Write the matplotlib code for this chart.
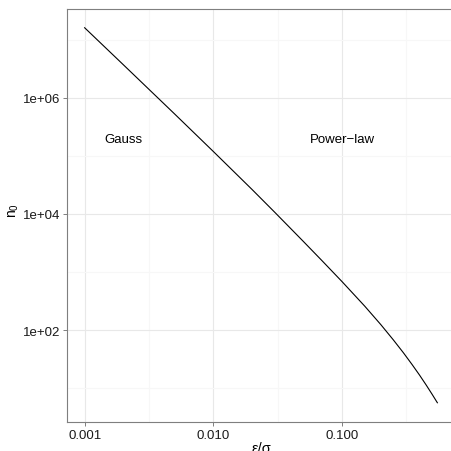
import matplotlib
matplotlib.use('Agg')
import matplotlib.pyplot as plt
import numpy as np
from matplotlib.ticker import FixedLocator, NullFormatter

# values (log-log curve)
eps_sigma = [0.001, 0.002, 0.005, 0.01, 0.02, 0.03, 0.05, 0.07, 0.1, 0.15,
             0.2, 0.25, 0.3, 0.35, 0.4, 0.45, 0.5, 0.55]
n0 = [1.622e7, 3.73e6, 5.30e5, 1.194e5, 2.64e4, 1.07e4, 3.37e3, 1.56e3, 682, 258,
      124, 67.8, 40.4, 25.4, 16.7, 11.3, 7.85, 5.58]

x_breaks = [0.001, 0.01, 0.1]
x_labels = ['0.001', '0.010', '0.100']
x_minor = [0.00316, 0.0316, 0.316]
y_breaks = [1e2, 1e4, 1e6]
y_labels = ['1e+02', '1e+04', '1e+06']
y_minor = [1e1, 1e3, 1e5, 1e7]

labels = ['Gauss', 'Power\u2212law']
label_x = [0.002, 0.1]
label_y = [2e5, 2e5]

plt.rcParams['font.family'] = ['Liberation Sans', 'DejaVu Sans']

fig = plt.figure(figsize=(4.51, 4.52), dpi=100)
# panel runs a little past the right edge, like the cropped original
ax = fig.add_axes([67 / 451, 1 - 422.5 / 452, 388 / 451, 412.5 / 452])
ax.set_xscale('log')
ax.set_yscale('log')

ax.plot(eps_sigma, n0, color='black', lw=0.8)

# ggplot style 5% expansion in log space
lx = np.log10(eps_sigma)
ly = np.log10(n0)
dx = (lx.max() - lx.min()) * 0.05
dy = (ly.max() - ly.min()) * 0.05
ax.set_xlim(10 ** (lx.min() - dx), 10 ** (lx.max() + dx))
ax.set_ylim(10 ** (ly.min() - dy), 10 ** (ly.max() + dy))

for t, x, y in zip(labels, label_x, label_y):
    ax.text(x, y, t, ha='center', va='center', fontsize=9.5, color='black')

ax.xaxis.set_major_locator(FixedLocator(x_breaks))
ax.xaxis.set_ticklabels(x_labels)
ax.xaxis.set_minor_locator(FixedLocator(x_minor))
ax.xaxis.set_minor_formatter(NullFormatter())
ax.yaxis.set_major_locator(FixedLocator(y_breaks))
ax.yaxis.set_ticklabels(y_labels)
ax.yaxis.set_minor_locator(FixedLocator(y_minor))
ax.yaxis.set_minor_formatter(NullFormatter())

ax.tick_params(which='major', length=3, width=0.7, color='#7F7F7F',
               labelsize=9.5, labelcolor='#1a1a1a')
ax.tick_params(axis='x', which='major', pad=2.5)
ax.tick_params(axis='y', which='major', pad=1.5)
ax.tick_params(which='minor', length=0)

ax.grid(which='major', color='#E8E8E8', lw=0.8)
ax.grid(which='minor', color='#F7F7F7', lw=0.8)
ax.set_axisbelow(True)
for s in ax.spines.values():
    s.set_color('#7F7F7F')
    s.set_linewidth(0.8)

ax.set_xlabel('\u03b5/\u03c3', fontsize=10.5, va='baseline')
ax.xaxis.set_label_coords(0.5, -31 / 412.5)
ax.set_ylabel(r'$\mathregular{n_0}$', fontsize=10)
ax.yaxis.set_label_coords(-46 / 388, 0.515)

fig.savefig('out.png', dpi=100)
